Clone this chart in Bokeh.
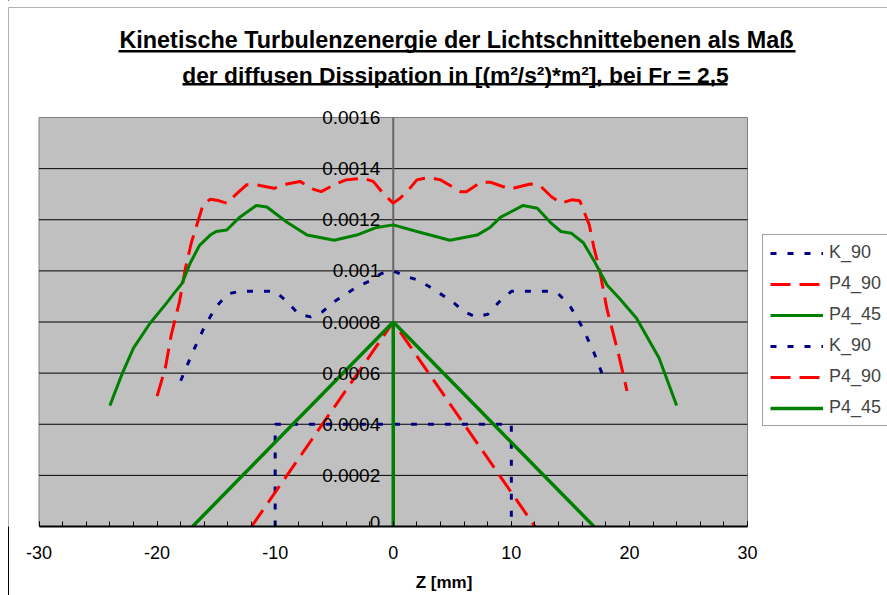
from bokeh.plotting import figure
from bokeh.models import (Label, BoxAnnotation, Legend, LegendItem, FixedTicker,
                          CustomJSTickFormatter, Range1d)
from bokeh.core.properties import value
from bokeh.embed import file_html
from bokeh.resources import INLINE

FONT = "Liberation Sans"

# ---------------- data ----------------
# K_90 (measured curve)
k90_z = [-18, -17, -16, -15, -14, -13, -12, -11, -10, -9, -8, -7, -6, -5, -4, -3, -2, -1, 0,
         1, 2, 3, 4, 5, 6, 7, 8, 9, 10, 11, 12, 13, 14, 15, 16, 17, 18]
k90_v = [0.00057, 0.00068, 0.00078, 0.00086, 0.00091, 0.00092, 0.00092, 0.00092, 0.00092,
         0.00088, 0.00083, 0.00082, 0.00084, 0.00088, 0.00091, 0.00094, 0.00096, 0.00099, 0.00100,
         0.00098, 0.000965, 0.00094, 0.00091, 0.00088, 0.00084, 0.00082, 0.00083, 0.00088,
         0.00092, 0.00092, 0.00092, 0.00092, 0.00091, 0.00086, 0.00078, 0.00068, 0.00056]

# P4_90 (measured curve)
p490_z = [-20, -19.3, -18.8, -18.1, -17.6, -17.1, -16.5, -16.1, -15.5, -14.8,
          -14.1, -13.3, -12.4, -11.6, -10.1, -9.0, -7.9, -6.8, -6.1, -5.0,
          -4.0, -2.5, -1.7, -0.8, 0, 0.6, 1.3, 2.0, 3.0, 4.0,
          5.7, 6.2, 7.4, 8.2, 9.9, 11.6, 12.5, 13.4, 14.2, 15.1,
          15.8, 16.6, 17.0, 17.5, 18.1, 19.1, 19.8]
p490_v = [0.00051, 0.00062, 0.00075, 0.00088, 0.00101, 0.00111, 0.00120, 0.00126, 0.00128, 0.001275,
          0.001265, 0.00130, 0.001337, 0.001337, 0.001323, 0.00134, 0.00135, 0.00132, 0.00131, 0.001337,
          0.001356, 0.001362, 0.00135, 0.00130, 0.001265, 0.001285, 0.001317, 0.001356, 0.001365, 0.001356,
          0.00131, 0.00131, 0.001347, 0.001347, 0.00132, 0.00134, 0.00133, 0.00129, 0.001265, 0.001278,
          0.001274, 0.00118, 0.00109, 0.000998, 0.00085, 0.00067, 0.00053]

# P4_45 (measured curve)
p445_z = [-24, -23, -22, -20.6, -19.2, -18.6, -17.9, -17.2, -16.4, -15.5,
          -15.0, -14.1, -13.0, -11.6, -10.7, -9.0, -7.3, -5.0, -3.1, -1.4,
          0, 2.0, 4.8, 7.1, 8.2, 9.1, 11.0, 12.2, 13.3, 14.2,
          15.1, 16.1, 17.0, 18.1, 19.2, 20.6, 22.5, 24]
p445_v = [0.000473, 0.000593, 0.000698, 0.000795, 0.000874, 0.00091, 0.00095, 0.00103, 0.00110, 0.00114,
          0.001154, 0.00116, 0.00121, 0.001256, 0.00125, 0.00119, 0.00114, 0.00112, 0.00114, 0.00117,
          0.00118, 0.001154, 0.00112, 0.00114, 0.00117, 0.00121, 0.001256, 0.001245, 0.00119, 0.001154,
          0.001147, 0.00111, 0.00104, 0.000945, 0.00089, 0.000815, 0.00066, 0.000473]

# second set (model shapes)
k90b_z = [-10, -10, 10, 10]
k90b_v = [0, 0.0004, 0.0004, 0]
p490b_z = [-12, 0, 12]
p490b_v = [0, 0.0008, 0]
p445b_z = [-17, 0, 0, 0, 17]
p445b_v = [0, 0.0008, 0, 0.0008, 0]

x_ticks = [-30, -20, -10, 0, 10, 20, 30]
x_minor = list(range(-30, 31, 2))
y_ticks = [0, 0.0002, 0.0004, 0.0006, 0.0008, 0.001, 0.0012, 0.0014, 0.0016]
y_labels = ["0", "0.0002", "0.0004", "0.0006", "0.0008", "0.001", "0.0012", "0.0014", "0.0016"]
y_axis_at = 0

title1 = "Kinetische Turbulenzenergie der Lichtschnittebenen als Maß"
title2 = "der diffusen Dissipation in [(m²/s²)*m²], bei Fr = 2,5"

NAVY, RED, GREEN = "#000080", "#FF0000", "#008000"

# ---------------- layout constants (pixels) ----------------
W, H = 887, 595
PLOT_L, PLOT_R, PLOT_T, PLOT_B = 38.5, 747.0, 117.0, 526.0

x_lo, x_hi = x_ticks[0], x_ticks[-1]
y_lo, y_hi = y_ticks[0], y_ticks[-1]
xppu = (PLOT_R - PLOT_L) / (x_hi - x_lo)
yppu = (PLOT_B - PLOT_T) / (y_hi - y_lo)
x_range = Range1d(x_lo - PLOT_L / xppu, x_hi + (W - PLOT_R) / xppu)
y_range = Range1d(y_lo, y_hi + PLOT_T / yppu)

# ---------------- figure ----------------
p = figure(width=W, height=H, x_range=x_range, y_range=y_range,
           output_backend="svg", toolbar_location=None, y_axis_location=None,
           min_border_left=0, min_border_right=0, min_border_top=0,
           min_border_bottom=int(H - PLOT_B),
           background_fill_color="white", border_fill_color="white", border_fill_alpha=0,
           outline_line_color=None)
p.styles = {"background": "linear-gradient(90deg, #ffffff 0px, #ffffff 8px, #000000 8px, "
                          "#000000 9px, #ffffff 9px, #ffffff 100%)"}
p.xgrid.visible = False
p.ygrid.visible = False

# plot area
p.quad(left=[x_lo], right=[x_hi], bottom=[y_lo], top=[y_hi],
       fill_color="#C0C0C0", line_color="#808080", line_width=1)
# horizontal gridlines
p.segment(x0=[x_lo] * (len(y_ticks) - 1), x1=[x_hi] * (len(y_ticks) - 1),
          y0=y_ticks[1:-1] + [y_hi], y1=y_ticks[1:-1] + [y_hi],
          line_color=["black"] * (len(y_ticks) - 2) + ["#808080"], line_width=1)
# value axis crossing at z = 0
p.segment(x0=[y_axis_at], x1=[y_axis_at], y0=[y_lo], y1=[y_hi], line_color="#666666", line_width=2)

# x axis at the bottom of the plot area
ax = p.xaxis[0]
ax.bounds = (x_lo, x_hi)
ax.ticker = FixedTicker(ticks=x_ticks, minor_ticks=x_minor)
ax.formatter = CustomJSTickFormatter(code="return tick.toString()")
ax.axis_line_color = "black"
ax.axis_line_width = 2
ax.major_tick_in = 5
ax.major_tick_out = 0
ax.minor_tick_in = 5
ax.minor_tick_out = 0
ax.major_tick_line_color = "black"
ax.minor_tick_line_color = "black"
ax.major_label_text_font = FONT
ax.major_label_text_font_size = "18px"
ax.major_label_text_color = "black"
ax.major_label_standoff = 19
ax.axis_label = "Z [mm]"
ax.axis_label_text_font = FONT
ax.axis_label_text_font_style = "bold"
ax.axis_label_text_font_size = "17px"
ax.axis_label_text_color = "black"
ax.axis_label_standoff = 11

# series
r1 = p.line(k90_z, k90_v, line_color=NAVY, line_width=3, line_dash="6 11")
r2 = p.line(p490_z, p490_v, line_color=RED, line_width=3, line_dash="20 9")
r3 = p.line(p445_z, p445_v, line_color=GREEN, line_width=3)
r4 = p.line(k90b_z, k90b_v, line_color=NAVY, line_width=3, line_dash="6 11")
r5 = p.line(p490b_z, p490b_v, line_color=RED, line_width=3, line_dash="20 9")
r6 = p.line(p445b_z, p445b_v, line_color=GREEN, line_width=3.5)

# value axis labels (the label at the axis base is nudged up so it stays inside the frame)
label_dy = [-4 if t == y_lo else 0 for t in y_ticks]
p.text(x=[y_axis_at] * len(y_ticks), y=y_ticks, text=y_labels, x_offset=-13, y_offset=label_dy,
       text_align="right", text_baseline="middle", text_font=value(FONT),
       text_font_size="19px", text_color="black")

legend = Legend(items=[
    LegendItem(label="K_90", renderers=[r1]),
    LegendItem(label="P4_90", renderers=[r2]),
    LegendItem(label="P4_45", renderers=[r3]),
    LegendItem(label="K_90", renderers=[r4]),
    LegendItem(label="P4_90", renderers=[r5]),
    LegendItem(label="P4_45", renderers=[r6]),
], location=(762, PLOT_B - 426), margin=0, padding=7, spacing=10, glyph_width=53, glyph_height=20,
    label_height=20, label_width=62, label_standoff=6, label_text_font=FONT,
    label_text_font_size="18px",
    border_line_color="#404040", border_line_width=1, background_fill_color="white",
    background_fill_alpha=1.0)
p.add_layout(legend)

# title (two underlined lines) -- screen units relative to the frame's bottom-left
p.add_layout(Label(x=456, y=PLOT_B - 39.5, x_units="screen", y_units="screen", text=title1,
                   text_align="center", text_baseline="middle", text_font=FONT,
                   text_font_style="bold", text_font_size="23.4px", text_color="black"))
p.add_layout(Label(x=455, y=PLOT_B - 74.5, x_units="screen", y_units="screen", text=title2,
                   text_align="center", text_baseline="middle", text_font=FONT,
                   text_font_style="bold", text_font_size="22.8px", text_color="black"))
for (l, r, t, b) in [(118, 795, 49.5, 52.0), (182, 727, 82.5, 85.0)]:
    p.add_layout(BoxAnnotation(left=l, right=r, bottom=PLOT_B - b, top=PLOT_B - t,
                               left_units="screen", right_units="screen",
                               top_units="screen", bottom_units="screen",
                               fill_color="black", fill_alpha=1.0, line_alpha=0))
# chart area border (top and left edges visible in the window)
p.add_layout(BoxAnnotation(left=8, right=W + 20, bottom=-100, top=PLOT_B - 7,
                           left_units="screen", right_units="screen",
                           top_units="screen", bottom_units="screen",
                           fill_alpha=0, line_color="black", line_width=1))

open("out.html", "w").write(file_html(p, INLINE))
